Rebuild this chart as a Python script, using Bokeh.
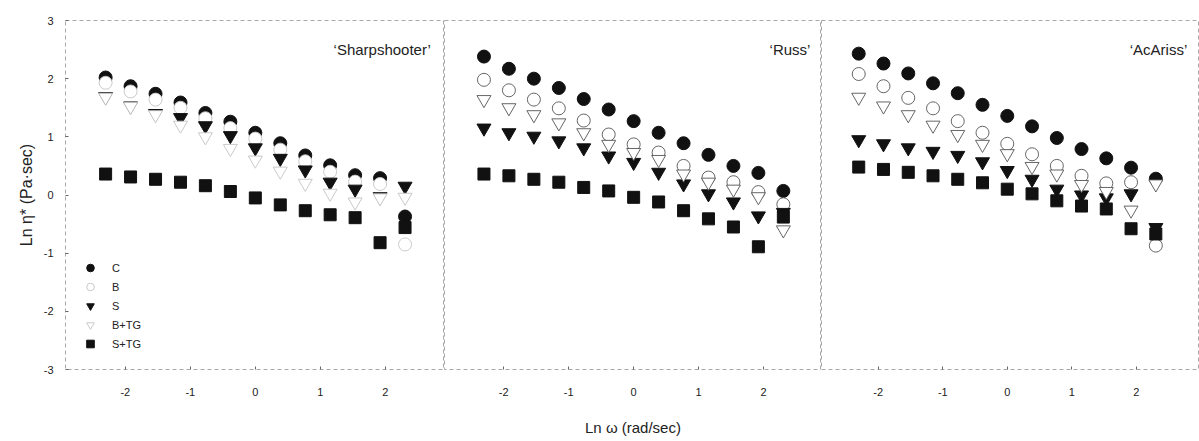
from bokeh.plotting import figure
from bokeh.layouts import row
from bokeh.models import Range1d, FixedTicker, Label, Legend, LegendItem, Spacer
from bokeh.embed import file_html
from bokeh.resources import INLINE

# ---------------- data ----------------
ln_omega = [-2.303, -1.919, -1.535, -1.151, -0.768, -0.384, 0.0,
            0.384, 0.768, 1.151, 1.535, 1.919, 2.303]

cultivars = ["\u2018Sharpshooter\u2019", "\u2018Russ\u2019", "\u2018AcAriss\u2019"]
series_names = ["C", "B", "S", "B+TG", "S+TG"]

sharp_C    = [2.02, 1.87, 1.74, 1.59, 1.41, 1.26, 1.07, 0.89, 0.68, 0.51, 0.34, 0.29, -0.37]
sharp_B    = [1.93, 1.78, 1.64, 1.50, 1.32, 1.15, 0.97, 0.78, 0.58, 0.40, 0.23, 0.19, -0.85]
sharp_S    = [1.69, 1.53, 1.40, 1.33, 1.19, 1.02, 0.81, 0.63, 0.43, 0.22, 0.10, -0.03, 0.15]
sharp_BTG  = [1.68, 1.52, 1.38, 1.20, 1.00, 0.80, 0.60, 0.41, 0.20, 0.03, -0.12, -0.05, -0.04]
sharp_STG  = [0.36, 0.31, 0.27, 0.22, 0.16, 0.06, -0.05, -0.17, -0.27, -0.34, -0.39, -0.82, -0.56]

russ_C     = [2.38, 2.17, 2.00, 1.84, 1.65, 1.47, 1.27, 1.07, 0.89, 0.69, 0.50, 0.38, 0.07]
russ_B     = [1.98, 1.80, 1.64, 1.49, 1.28, 1.04, 0.87, 0.73, 0.50, 0.30, 0.22, 0.05, -0.16]
russ_S     = [1.15, 1.07, 1.01, 0.93, 0.81, 0.67, 0.56, 0.39, 0.19, 0.02, -0.12, -0.36, -0.30]
russ_BTG   = [1.64, 1.50, 1.38, 1.24, 1.07, 0.87, 0.73, 0.61, 0.36, 0.22, 0.10, -0.03, -0.60]
russ_STG   = [0.36, 0.33, 0.27, 0.22, 0.13, 0.07, -0.04, -0.12, -0.27, -0.41, -0.55, -0.89, -0.38]

acariss_C   = [2.43, 2.26, 2.09, 1.92, 1.75, 1.55, 1.36, 1.18, 0.98, 0.79, 0.63, 0.47, 0.28]
acariss_B   = [2.08, 1.87, 1.67, 1.49, 1.27, 1.07, 0.88, 0.70, 0.50, 0.33, 0.20, 0.22, -0.87]
acariss_S   = [0.95, 0.88, 0.81, 0.75, 0.68, 0.57, 0.42, 0.27, 0.10, 0.00, -0.05, 0.02, -0.56]
acariss_BTG = [1.68, 1.53, 1.38, 1.20, 1.04, 0.87, 0.71, 0.49, 0.36, 0.18, 0.06, -0.26, 0.19]
acariss_STG = [0.48, 0.44, 0.39, 0.33, 0.27, 0.21, 0.10, 0.02, -0.10, -0.19, -0.24, -0.58, -0.67]

x_ticks = [-2, -1, 0, 1, 2, 3]
x_tick_labels = ["-2", "-1", "0", "1", "2", "3"]
y_ticks = [-3, -2, -1, 0, 1, 2, 3]
y_tick_labels = ["-3", "-2", "-1", "0", "1", "2", "3"]

x_title = "Ln \u03c9 (rad/sec)"
y_title = "Ln \u03b7* (Pa\u00b7sec)"

panel_data = [
    [sharp_C, sharp_B, sharp_S, sharp_BTG, sharp_STG],
    [russ_C, russ_B, russ_S, russ_BTG, russ_STG],
    [acariss_C, acariss_B, acariss_S, acariss_BTG, acariss_STG],
]

# ---------------- styling ----------------
FONT = "Liberation Sans"
INK = "#111111"
H = 438


def make_panel(i, width, border_left, x_start, x_end, open_color, label_x):
    p = figure(width=width, height=H, output_backend="svg", toolbar_location=None,
               x_range=Range1d(x_start, x_end), y_range=Range1d(-3, 3),
               min_border_left=border_left, min_border_right=0,
               min_border_top=20, min_border_bottom=66)
    p.grid.visible = False
    p.outline_line_color = "#a8a8a8"
    p.outline_line_dash = "4 3"
    p.outline_line_width = 1
    p.background_fill_color = "white"
    p.border_fill_color = "white"

    xa = p.xaxis[0]
    xa.ticker = FixedTicker(ticks=x_ticks)
    xa.major_label_overrides = dict(zip(x_ticks, x_tick_labels))
    xa.axis_line_color = None
    xa.major_tick_in = 3
    xa.major_tick_out = 0
    xa.major_tick_line_color = "#666666"
    xa.minor_tick_line_color = None
    xa.major_label_standoff = 18
    xa.major_label_text_font = FONT
    xa.major_label_text_font_size = "11px"
    xa.major_label_text_color = "#222222"
    xa.axis_label = x_title if i == 1 else " "
    xa.axis_label_text_font = FONT
    xa.axis_label_text_font_size = "15px"
    xa.axis_label_text_font_style = "normal"
    xa.axis_label_text_color = "#222222"
    xa.axis_label_standoff = 20

    ya = p.yaxis[0]
    if i == 0:
        ya.ticker = FixedTicker(ticks=y_ticks)
        ya.major_label_overrides = dict(zip(y_ticks, y_tick_labels))
        ya.axis_line_color = None
        ya.major_tick_in = 3
        ya.major_tick_out = 0
        ya.major_tick_line_color = "#666666"
        ya.minor_tick_line_color = None
        ya.major_label_standoff = 12
        ya.major_label_text_font = FONT
        ya.major_label_text_font_size = "11px"
        ya.major_label_text_color = "#222222"
        ya.axis_label = y_title
        ya.axis_label_text_font = FONT
        ya.axis_label_text_font_size = "16px"
        ya.axis_label_text_font_style = "normal"
        ya.axis_label_text_color = "#222222"
        ya.axis_label_standoff = 6
    else:
        ya.visible = False

    C, B, S, BTG, STG = panel_data[i]
    r_c = p.scatter(ln_omega, C, marker="circle", size=13,
                    fill_color=INK, line_color=INK)
    r_b = p.scatter(ln_omega, B, marker="circle", size=13,
                    fill_color="white", line_color=open_color, line_width=0.9)
    r_s = p.scatter(ln_omega, S, marker="inverted_triangle", size=14,
                    fill_color=INK, line_color=INK)
    r_btg = p.scatter(ln_omega, BTG, marker="inverted_triangle", size=14,
                      fill_color="white", line_color=open_color, line_width=0.9)
    r_stg = p.scatter(ln_omega, STG, marker="square", size=12,
                      fill_color=INK, line_color=INK)

    p.add_layout(Label(x=label_x, y=2.5, text=cultivars[i], text_align="right",
                       text_baseline="middle", text_font=FONT,
                       text_font_size="15px", text_color="#222222"))

    if i == 0:
        items = [LegendItem(label=n, renderers=[r])
                 for n, r in zip(series_names, [r_c, r_b, r_s, r_btg, r_stg])]
        leg = Legend(items=items, location=(15, 16), orientation="vertical",
                     glyph_width=20, glyph_height=19, label_height=19,
                     label_standoff=12, spacing=0, padding=0, margin=0,
                     label_text_font=FONT, label_text_font_size="11px",
                     label_text_color="#222222",
                     background_fill_alpha=0, border_line_color=None)
        p.add_layout(leg, "center")
    return p


p1 = make_panel(0, 436, 57, -2.92, 2.91, "#c4c4c4", 2.70)
p2 = make_panel(1, 377, 0, -2.91, 2.89, "#555555", 2.72)
p3 = make_panel(2, 378, 0, -2.88, 2.98, "#555555", 2.79)

layout = row(Spacer(width=8, height=H), p1, p2, p3, spacing=0)

open("out.html", "w").write(file_html(layout, INLINE))
